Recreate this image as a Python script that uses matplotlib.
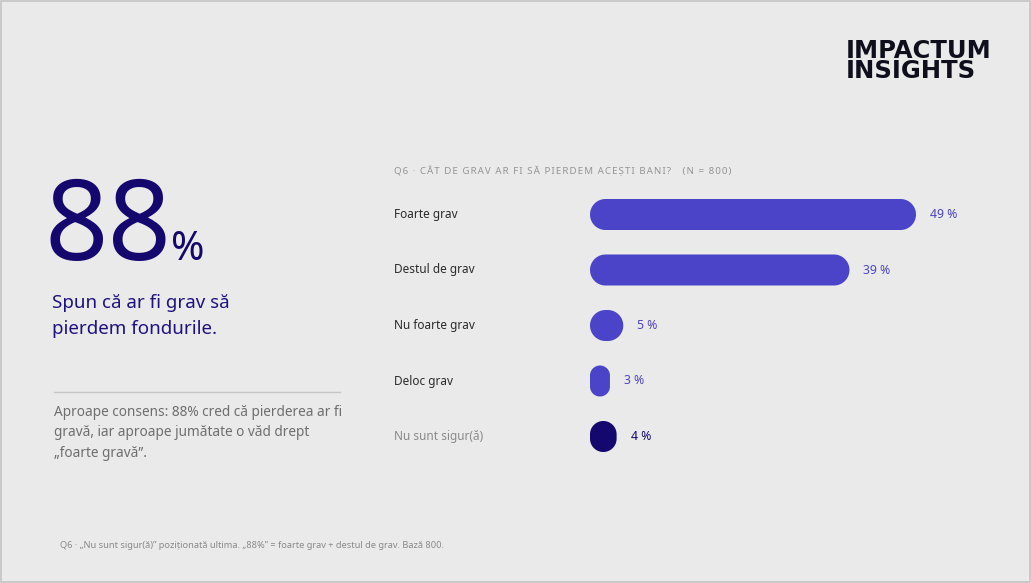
import matplotlib

matplotlib.use("Agg")
import matplotlib.pyplot as plt
import numpy as np
from matplotlib.patches import Polygon, Rectangle

plt.rcParams["font.family"] = ["Noto Sans", "DejaVu Sans"]

# data
categories = ["Foarte grav", "Destul de grav", "Nu foarte grav", "Deloc grav", "Nu sunt sigur(ă)"]
values = [49, 39, 5, 3, 4]
headline_value = "88"
header = "Q6 · CÂT DE GRAV AR FI SĂ PIERDEM ACEȘTI BANI?   (N = 800)"
subtitle = "Spun că ar fi grav să\npierdem fondurile."
note = "Aproape consens: 88% cred că pierderea ar fi\ngravă, iar aproape jumătate o văd drept\n„foarte gravă”."
footer = "Q6 · „Nu sunt sigur(ă)” poziționată ultima. „88%” = foarte grav + destul de grav. Bază 800."
logo = "IMPACTUM\nINSIGHTS"

BG = "#EAEAEA"
BAR = "#4B44C8"
DARK = "#14076E"
W, H = 1031, 583


def pill(x0, yc, w, h, aspect, n=24):
    """Rounded bar (radius = half the shorter side) in data units; aspect = y-units per x-unit."""
    hx = h / aspect
    r = min(w, hx) / 2
    pts = []
    corners = [(x0 + w - r, yc + h / 2 - r * aspect, 0, 90),
               (x0 + r, yc + h / 2 - r * aspect, 90, 180),
               (x0 + r, yc - h / 2 + r * aspect, 180, 270),
               (x0 + w - r, yc - h / 2 + r * aspect, 270, 360)]
    for cx, cy, a0, a1 in corners:
        t = np.radians(np.linspace(a0, a1, n))
        pts += list(zip(cx + r * np.cos(t), cy + r * aspect * np.sin(t)))
    return pts


fig = plt.figure(figsize=(W / 100, H / 100), dpi=100, facecolor=BG)

# page layer in pixel coords (top-left origin) for the text blocks
page = fig.add_axes([0, 0, 1, 1])
page.set_xlim(0, W)
page.set_ylim(H, 0)
page.axis("off")
page.add_patch(Rectangle((0.5, 0.5), W - 2, H - 2, fill=False, ec="#C4C4C4", lw=1.2))

page.text(846, 61, logo, fontsize=17.5, fontweight="bold", family=["DejaVu Sans"],
          color="#0E0E1C", va="center", ha="left", linespacing=0.82)

page.text(44, 260, headline_value, fontsize=80, color=DARK, va="baseline", ha="left")
page.text(171, 260, "%", fontsize=29, color=DARK, va="baseline", ha="left")
page.text(52, 316, subtitle, fontsize=13.5, color="#1E1280", va="center", ha="left",
          linespacing=1.55)
page.plot([54, 340], [392, 392], color="#C6C6C6", lw=1)
page.text(54, 433, note, fontsize=9.8, color="#6E6E6E", va="center", ha="left",
          linespacing=1.5)
page.text(60, 546, footer, fontsize=6.65, color="#8A8A8A", va="center", ha="left")

# letter-spaced small caps header
page.text(394, 171, "\u200a".join(header), fontsize=7.05, color="#959595", va="center", ha="left")

# bar chart axes: x in percent, one row per category
px_per_pct = 326 / 49
row_px = 55.5
x_max = 60
ax_left = 590
ax_w = x_max * px_per_pct
ax_top = 214.5 - row_px / 2
ax_h = row_px * len(categories)
ax = fig.add_axes([ax_left / W, 1 - (ax_top + ax_h) / H, ax_w / W, ax_h / H])
ax.set_xlim(0, x_max)
ax.set_ylim(len(categories) - 0.5, -0.5)
ax.axis("off")

bar_h = 31 / row_px
aspect = px_per_pct / row_px  # y-units per x-unit in pixel terms
for i, (cat, v) in enumerate(zip(categories, values)):
    last = i == len(categories) - 1
    color = DARK if last else BAR
    ax.add_patch(Polygon(pill(0, i, v, bar_h, aspect), closed=True, fc=color, ec="none"))
    ax.text(v + 2.1, i, f"{v} %", fontsize=8.8, color=color, va="center", ha="left")
    # category labels sit left of the bar area
    page.text(394, 214.5 + i * row_px, cat, fontsize=8.5,
              color="#8A8A8A" if last else "#2B2B2B", va="center", ha="left")

fig.savefig("out.png", dpi=100, facecolor=BG)
